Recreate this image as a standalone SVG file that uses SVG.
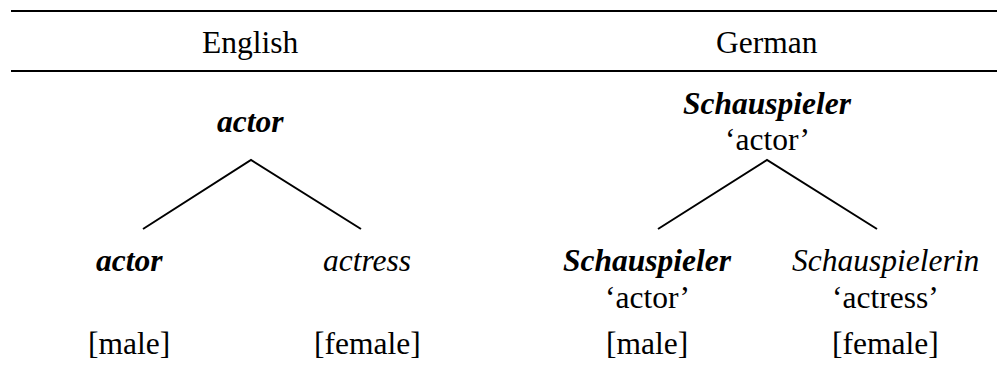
<svg xmlns="http://www.w3.org/2000/svg" width="997" height="370" viewBox="0 0 997 370">
  <style>
    .rule { stroke: #000; stroke-width: 2.2; }
    .branch { stroke: #000; stroke-width: 2; fill: none; }
  </style>
  <rect width="997" height="370" fill="#fff"/>

  <!-- all labels share one serif face and size; x values are left edges -->
  <g font-family="Times New Roman" font-size="31.5" fill="#000">

    <!-- table header rules and column titles -->
    <g id="header">
      <line class="rule" x1="11" y1="11" x2="997" y2="11"/>
      <line class="rule" x1="11" y1="71" x2="997" y2="71"/>
      <text x="202" y="53">English</text>
      <text x="716" y="53">German</text>
    </g>

    <!-- English tree -->
    <g id="en-root">
      <text x="217" y="132" font-weight="bold" font-style="italic">actor</text>
    </g>
    <g id="en-male">
      <text x="96" y="271" font-weight="bold" font-style="italic">actor</text>
      <text x="88" y="354">[male]</text>
    </g>
    <g id="en-female">
      <text x="323" y="271" font-style="italic">actress</text>
      <text x="314" y="354">[female]</text>
    </g>

    <!-- German tree -->
    <g id="de-root">
      <text x="683" y="114" font-weight="bold" font-style="italic">Schauspieler</text>
      <text x="725" y="150">&#8216;actor&#8217;</text>
    </g>
    <g id="de-male">
      <text x="563" y="271" font-weight="bold" font-style="italic">Schauspieler</text>
      <text x="605" y="308">&#8216;actor&#8217;</text>
      <text x="606" y="354">[male]</text>
    </g>
    <g id="de-female">
      <text x="792" y="271" font-style="italic">Schauspielerin</text>
      <text x="832" y="308">&#8216;actress&#8217;</text>
      <text x="832" y="354">[female]</text>
    </g>
  </g>

  <!-- branches -->
  <g id="connectors">
    <polyline class="branch" points="143,229 251,160 361,229"/>
    <polyline class="branch" points="658,229 767,160 877,229"/>
  </g>
</svg>
